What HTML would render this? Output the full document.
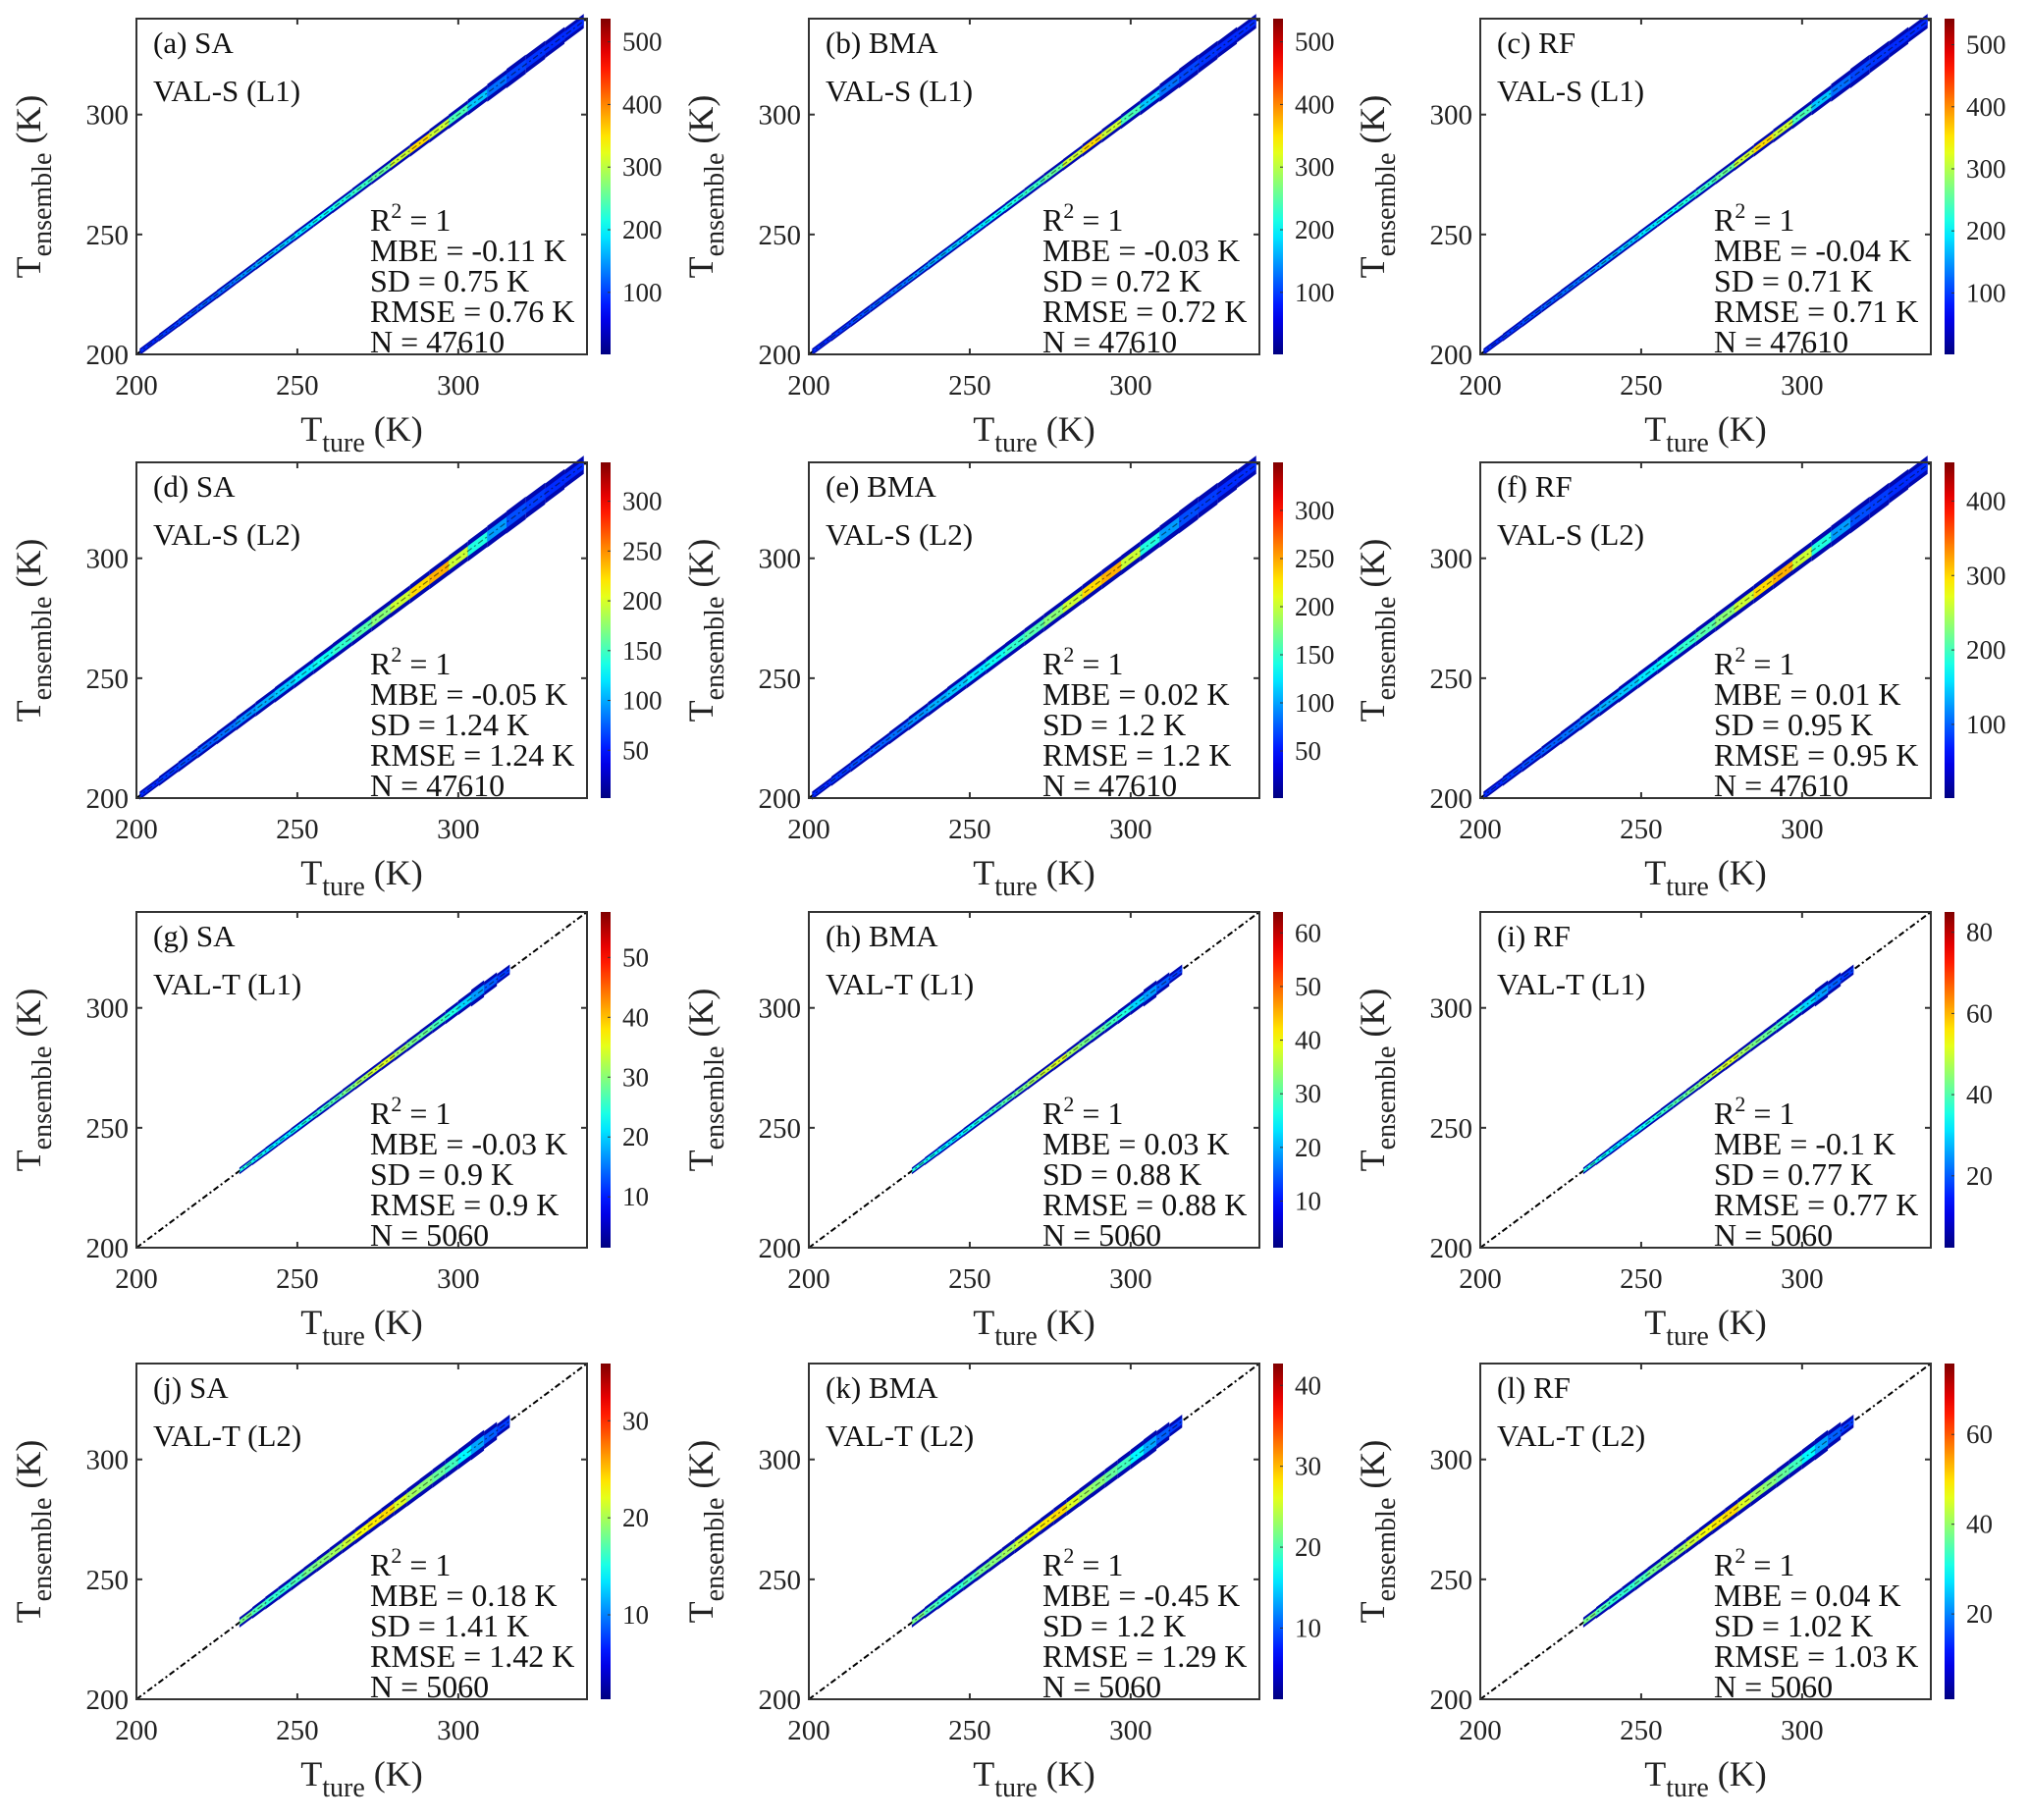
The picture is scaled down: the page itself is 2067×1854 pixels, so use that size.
<!DOCTYPE html>
<html><head><meta charset="utf-8">
<style>
html,body{margin:0;padding:0;background:#fff;}
svg{display:block;font-family:"Liberation Serif",serif;}
</style></head>
<body>
<svg id="fig" width="2067" height="1854" viewBox="0 0 2067 1854" xmlns="http://www.w3.org/2000/svg"></svg>
<script>
// ---- data ----
const panelLabels = ["(a) SA","(b) BMA","(c) RF","(d) SA","(e) BMA","(f) RF","(g) SA","(h) BMA","(i) RF","(j) SA","(k) BMA","(l) RF"];
const rowSets = ["VAL-S (L1)","VAL-S (L2)","VAL-T (L1)","VAL-T (L2)"];
const mbe = ["-0.11","-0.03","-0.04","-0.05","0.02","0.01","-0.03","0.03","-0.1","0.18","-0.45","0.04"];
const sd = ["0.75","0.72","0.71","1.24","1.2","0.95","0.9","0.88","0.77","1.41","1.2","1.02"];
const rmse = ["0.76","0.72","0.71","1.24","1.2","0.95","0.9","0.88","0.77","1.42","1.29","1.03"];
const nObs = ["47610","47610","47610","47610","47610","47610","5060","5060","5060","5060","5060","5060"];
const cbMin = [1,1,1,2,1,1,1.5,1.3,2.3,1.3,1.2,1];
const cbMax = [537,537,542,339,350,452,57.6,63.9,85,35.9,42.7,75.8];
const cbTicks = [
 [100,200,300,400,500],[100,200,300,400,500],[100,200,300,400,500],
 [50,100,150,200,250,300],[50,100,150,200,250,300],[100,200,300,400],
 [10,20,30,40,50],[10,20,30,40,50,60],[20,40,60,80],
 [10,20,30],[10,20,30,40],[20,40,60]];
const axisTicks = [200,250,300];
// density band data: bin centres (K), half spread (K), relative density (0..1)
const binsS = [204,210,216,222,228,234,240,246,252,258,264,270,276,282,288,294,300,306,312,318,324,330,336];
const spreadS1 = [1.4,1.6,1.7,1.7,1.8,1.8,1.9,1.9,2.0,2.0,2.1,2.2,2.3,2.4,2.6,2.8,3.0,3.3,3.7,4.0,3.8,3.5,3.0];
const densS1 = [0.02,0.04,0.06,0.08,0.1,0.14,0.17,0.2,0.24,0.27,0.3,0.33,0.38,0.5,0.6,0.5,0.35,0.2,0.1,0.05,0.03,0.02,0.02];
const spreadS2 = [1.7,2.0,2.2,2.4,2.6,2.8,3.0,3.2,3.3,3.4,3.5,3.6,3.7,3.8,3.9,4.0,4.1,4.3,4.5,4.7,4.5,4.2,3.8];
const densS2 = [0.02,0.04,0.06,0.08,0.1,0.14,0.17,0.2,0.24,0.28,0.32,0.36,0.42,0.5,0.6,0.65,0.5,0.3,0.15,0.06,0.04,0.02,0.02];
const binsT = [234,238,242,246,250,254,258,262,266,270,274,278,282,286,290,294,298,302,306,310,314];
const spreadT1 = [1.4,1.6,1.7,1.7,1.8,1.8,1.9,1.9,2.0,2.1,2.1,2.2,2.3,2.4,2.5,2.6,2.8,3.0,3.5,2.9,2.1];
const densT1 = [0.3,0.28,0.25,0.25,0.28,0.3,0.33,0.36,0.4,0.45,0.5,0.52,0.45,0.4,0.38,0.34,0.3,0.22,0.15,0.08,0.04];
const spreadT2 = [2.1,2.4,2.6,2.7,2.8,2.9,3.0,3.1,3.2,3.3,3.4,3.5,3.6,3.7,3.8,3.9,4.0,4.1,4.3,3.7,2.7];
const densT2 = [0.4,0.35,0.32,0.32,0.35,0.4,0.42,0.45,0.5,0.55,0.58,0.6,0.52,0.45,0.42,0.38,0.34,0.26,0.16,0.08,0.04];
const rowBins = [binsS,binsS,binsT,binsT];
const rowSpread = [spreadS1,spreadS2,spreadT1,spreadT2];
const rowDens = [densS1,densS2,densT1,densT2];

// ---- layout ----
const colLeft = [139,824,1508], rowTop = [19,471,929,1389];
const W = 459, H = 342, LO = 200, HI = 340;
const svg = document.getElementById('fig');
const NS = 'http://www.w3.org/2000/svg';
function mk(tag, attrs, parent){const e=document.createElementNS(NS,tag);for(const k in attrs)e.setAttribute(k,attrs[k]);(parent||svg).appendChild(e);return e;}
function jet(t){t=Math.max(0,Math.min(1,t));
 const r=Math.max(0,Math.min(1,1.5-Math.abs(4*t-3))),g=Math.max(0,Math.min(1,1.5-Math.abs(4*t-2))),b=Math.max(0,Math.min(1,1.5-Math.abs(4*t-1)));
 return `rgb(${Math.round(r*255)},${Math.round(g*255)},${Math.round(b*255)})`;}
const defs = mk('defs',{});
const grad = mk('linearGradient',{id:'jetg',x1:0,y1:1,x2:0,y2:0},defs);
for(let i=0;i<=20;i++){mk('stop',{offset:(i/20),'stop-color':jet(i/20)},grad);}

for(let p=0;p<12;p++){
 const r=Math.floor(p/3), c=p%3, L=colLeft[c], T=rowTop[r];
 const g = mk('g',{});
 
 
 const xs = v => L + (v-LO)/(HI-LO)*W;
 const ys = v => T + H - (v-LO)/(HI-LO)*H;
 mk('rect',{x:L,y:T,width:W,height:H,fill:'#fff'},g);
 const dl = mk('line',{x1:xs(LO),y1:ys(LO),x2:xs(HI),y2:ys(HI),stroke:'#000','stroke-width':2,'stroke-dasharray':'6,3,2,3'},g);
 
 
 const bins=rowBins[r], sp=rowSpread[r], de=rowDens[r];
 const step = bins[1]-bins[0];
 const band = mk('g',{},g);
 
 
 for(let i=0;i<bins.length;i++){
  const x0=bins[i]-step/2, x1=bins[i]+step/2, s=sp[i];
  mk('polygon',{points:`${xs(x0)},${ys(x0-s)} ${xs(x1)},${ys(x1-s)} ${xs(x1)},${ys(x1+s)} ${xs(x0)},${ys(x0+s)}`,fill:'#0008b0'},band);
 }
 for(let i=0;i<bins.length;i++){
  const x0=bins[i]-step/2, x1=bins[i]+step/2, s=sp[i]*0.5;
  mk('polygon',{points:`${xs(x0)},${ys(x0-s)} ${xs(x1)},${ys(x1-s)} ${xs(x1)},${ys(x1+s)} ${xs(x0)},${ys(x0+s)}`,fill:jet(0.15+de[i]*0.85)},band);
 }
 mk('line',{x1:xs(LO),y1:ys(LO),x2:xs(HI),y2:ys(HI),stroke:'#000','stroke-width':1.2,'stroke-dasharray':'6,3,2,3',opacity:0.5},g);
 const box = mk('rect',{x:L,y:T,width:W,height:H,fill:'none',stroke:'#333','stroke-width':2},g);
 
 
 axisTicks.forEach(v=>{
  mk('line',{x1:xs(v),y1:T+H,x2:xs(v),y2:T+H-6,stroke:'#333','stroke-width':2},g);
  mk('line',{x1:xs(v),y1:T,x2:xs(v),y2:T+6,stroke:'#333','stroke-width':2},g);
  mk('line',{x1:L,y1:ys(v),x2:L+6,y2:ys(v),stroke:'#333','stroke-width':2},g);
  mk('line',{x1:L+W,y1:ys(v),x2:L+W-6,y2:ys(v),stroke:'#333','stroke-width':2},g);
  const tx = mk('text',{x:xs(v),y:T+H+41,'font-size':29,'text-anchor':'middle',fill:'#222'},g);
  tx.textContent=v;
  
  
  const ty = mk('text',{x:L-8,y:ys(v)+10,'font-size':29,'text-anchor':'end',fill:'#222'},g);
  ty.textContent=v;
  
  
 });
 const xt = mk('text',{x:L+W/2,y:T+H+88,'font-size':36,'text-anchor':'middle',fill:'#222'},g);
 xt.innerHTML='T<tspan dy="11" font-size="28">ture</tspan><tspan dy="-11"> (K)</tspan>';
 
 
 const yt = mk('text',{x:0,y:0,'font-size':36,'text-anchor':'middle',fill:'#222',transform:`translate(${L-98},${T+H/2}) rotate(-90)`},g);
 yt.innerHTML='T<tspan dy="11" font-size="28">ensemble</tspan><tspan dy="-11"> (K)</tspan>';
 
 
 const pl = mk('text',{x:L+17,y:T+35,'font-size':31,fill:'#111'},g);
 pl.textContent=panelLabels[p];
 
 
 const dsl = mk('text',{x:L+17,y:T+84,'font-size':31,fill:'#111'},g);
 dsl.textContent=rowSets[r];
 
 
 const st = mk('g',{'font-size':32,fill:'#111'},g);
 
 
 const sx=L+238, lh=31, base=T+340;
 const r2 = mk('text',{x:sx,y:base-4*lh},st); r2.innerHTML='R<tspan dy="-13" font-size="22">2</tspan><tspan dy="13"> = 1</tspan>';
 mk('text',{x:sx,y:base-3*lh},st).textContent='MBE = '+mbe[p]+' K';
 mk('text',{x:sx,y:base-2*lh},st).textContent='SD = '+sd[p]+' K';
 mk('text',{x:sx,y:base-lh},st).textContent='RMSE = '+rmse[p]+' K';
 mk('text',{x:sx,y:base},st).textContent='N = '+nObs[p];
 const cx = L+W+14, cw=10;
 const cb = mk('rect',{x:cx,y:T,width:cw,height:H,fill:'url(#jetg)'},g);
 
 
 const cs = v => T + H - (v-cbMin[p])/(cbMax[p]-cbMin[p])*H;
 cbTicks[p].forEach(v=>{
  mk('line',{x1:cx+cw-3,y1:cs(v),x2:cx+cw,y2:cs(v),stroke:'#333','stroke-width':1},g);
  const ct = mk('text',{x:cx+cw+12,y:cs(v)+9,'font-size':27,fill:'#222'},g);
  ct.textContent=v;
  
  
 });
}
</script>
</body></html>
